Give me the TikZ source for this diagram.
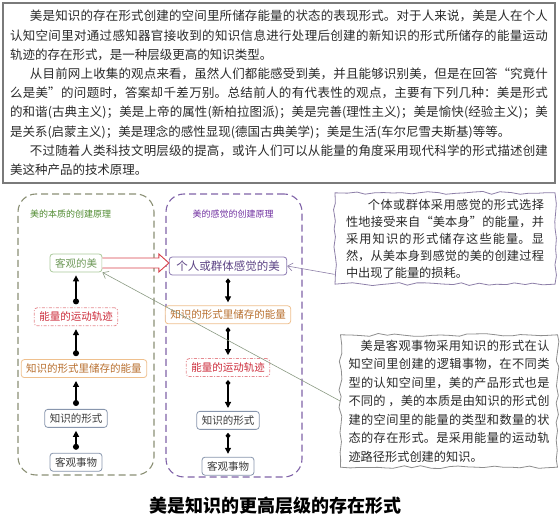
\documentclass[tikz,border=0pt]{standalone}
\usepackage{fontspec}
\setmainfont{Noto Sans CJK SC}
\usepackage{xcolor}
\usepackage{tikz}
\usetikzlibrary{positioning,arrows.meta,calc,decorations.pathmorphing}
\XeTeXlinebreaklocale "zh"
\XeTeXlinebreakskip=0pt plus 2pt

\definecolor{introLine}{HTML}{7A7A7A}
\definecolor{introText}{HTML}{2A2A2A}
\definecolor{frmAline}{HTML}{8A8F74}
\definecolor{frmBline}{HTML}{8063A8}
\definecolor{lblAtext}{HTML}{4F8A2F}
\definecolor{lblBtext}{HTML}{7030A0}
\definecolor{objLine}{HTML}{A9C99A}
\definecolor{objText}{HTML}{6F9A5A}
\definecolor{trackLine}{HTML}{E58A90}
\definecolor{trackText}{HTML}{CC2B3A}
\definecolor{storeLine}{HTML}{EFC08E}
\definecolor{storeText}{HTML}{B86F2E}
\definecolor{plainLine}{HTML}{8896AD}
\definecolor{plainText}{HTML}{3A3A3A}
\definecolor{feelLine}{HTML}{8A78B0}
\definecolor{feelText}{HTML}{5D4485}
\definecolor{bigRed}{HTML}{D8404A}
\definecolor{noteAline}{HTML}{8D7FA8}
\definecolor{noteBline}{HTML}{8E8E8E}
\definecolor{linkGrey}{HTML}{8A9A82}

\begin{document}
\begin{tikzpicture}[x=1pt, y=1pt,
  blk/.style={draw, rounded corners=3pt, fill=white, line width=0.8pt,
              inner xsep=5pt, inner ysep=3pt, minimum height=18pt,
              font=\fontsize{10.5}{12}\selectfont},
  objbox/.style={blk, draw=objLine, text=objText},
  trackbox/.style={blk, draw=trackLine, text=trackText,
              dash pattern=on 3pt off 1.5pt on 1pt off 1.5pt},
  storebox/.style={blk, draw=storeLine, text=storeText},
  plainbox/.style={blk, draw=plainLine, text=plainText},
  feelbox/.style={blk, draw=feelLine, text=feelText, inner xsep=7pt,
              font=\fontsize{11.5}{13}\selectfont},
  frm/.style={draw, rounded corners=18pt, line width=1.1pt,
              dash pattern=on 7pt off 4pt},
  frmA/.style={frm, draw=frmAline},
  frmB/.style={frm, draw=frmBline},
  lbl/.style={font=\fontsize{9}{10}\selectfont, inner sep=0pt},
  notebox/.style={draw, line width=0.8pt, fill=white, align=justify,
              decorate, decoration={random steps, segment length=9pt, amplitude=1.5pt},
              text=introText},
  uparr/.style={{Circle[length=6pt]}-{Triangle[length=6pt,width=6pt]},
              line width=1.2pt, shorten <=3pt, shorten >=3pt},
  downarr/.style={{Diamond[length=6pt,width=5pt]}-{Triangle[length=6pt,width=6pt]},
              line width=1.2pt, shorten <=3pt, shorten >=3pt},
  bigarr/.style={draw=bigRed, line width=0.9pt, fill=white, line join=miter},
  link/.style={-{Straight Barb[length=5pt,width=8pt]}, line width=0.6pt},
]
  \useasboundingbox (0,0) rectangle (560,519);
  \pgfmathsetseed{12}

  \node[draw=introLine, line width=1.2pt, text width=538pt, inner xsep=7pt,
        minimum height=180pt, align=justify, text=introText,
        font=\fontsize{12.5}{19.2}\selectfont] (intro) at (279,426) {%
    \hspace*{1.6em}美是知识的存在形式创建的空间里所储存能量的状态的表现形式。对于人来说，美是人在个人\linebreak
    认知空间里对通过感知器官接收到的知识信息进行处理后创建的新知识的形式所储存的能量运动\linebreak
    轨迹的存在形式，是一种层级更高的知识类型。\par
    \hspace*{1.6em}从目前网上收集的观点来看，虽然人们都能感受到美，并且能够识别美，但是在回答“究竟什\linebreak
    么是美”的问题时，答案却千差万别。总结前人的有代表性的观点，主要有下列几种：美是形式\linebreak
    的和谐(古典主义)；美是上帝的属性(新柏拉图派)；美是完善(理性主义)；美是愉快(经验主义)；美\linebreak
    是关系(启蒙主义)；美是理念的感性显现(德国古典美学)；美是生活(车尔尼雪夫斯基)等等。\par
    \hspace*{1.6em}不过随着人类科技文明层级的提高，或许人们可以从能量的角度采用现代科学的形式描述创建\linebreak
    美这种产品的技术原理。};

  \node[frmA, minimum width=136pt, minimum height=281pt] (essence) at (86,184.5) {};
  \node[frmB, minimum width=136pt, minimum height=283pt] (sense) at (234,183.5) {};
  \node[lbl, text=lblAtext, anchor=west] (essenceLbl) at (30,305) {美的本质的创建原理};
  \node[lbl, text=lblBtext] (senseLbl) at (233,305) {美的感觉的创建原理};

  \node[objbox] (obj) at (76,256) {客观的美};
  \node[trackbox, below=35pt of obj] (track) {能量的运动轨迹};
  \node[storebox, below=33pt of track, xshift=8pt] (store) {知识的形式里储存的能量};
  \node[plainbox, below=31pt of store, xshift=-8pt] (form) {知识的形式};
  \node[plainbox, below=25pt of form] (thing) {客观事物};

  \node[feelbox] (feel) at (228,253) {个人或群体感觉的美};
  \node[storebox, below=30pt of feel] (storeR) {知识的形式里储存的能量};
  \node[trackbox, below=34pt of storeR] (trackR) {能量的运动轨迹};
  \node[plainbox, below=34pt of trackR] (formR) {知识的形式};
  \node[plainbox, below=27pt of formR] (thingR) {客观事物};

  \draw[uparr] (thing) -- (form);
  \draw[uparr] (form.north) -- (form.north |- store.south);
  \draw[uparr] (store.north -| track.north) -- (track.south);
  \draw[uparr] (track) -- (obj);

  \draw[downarr] (feel) -- (storeR);
  \draw[downarr] (storeR) -- (trackR);
  \draw[downarr] (trackR) -- (formR);
  \draw[downarr] (formR) -- (thingR);

  \draw[bigarr] ($(obj.east)+(0,5)$) -- ($(obj.east -| feel.west)+(-10,5)$)
    -- ($(obj.east -| feel.west)+(-10,9)$) -- (obj.east -| feel.west)
    -- ($(obj.east -| feel.west)+(-10,-9)$) -- ($(obj.east -| feel.west)+(-10,-5)$)
    -- ($(obj.east)+(0,-5)$);

  \node[notebox, draw=noteAline, text width=198pt, inner xsep=11pt, inner ysep=6pt,
        font=\fontsize{12.2}{17}\selectfont] (why) at (445,280.5) {%
    \hspace*{1.8em}个体或群体采用感觉的形式选择\linebreak
    性地接受来自“美本身”的能量，并\linebreak
    采用知识的形式储存这些能量。显\linebreak
    然，从美本身到感觉的美的创建过程\linebreak
    中出现了能量的损耗。};

  \node[notebox, draw=noteBline, text width=201pt, inner xsep=8pt, inner ysep=5pt,
        font=\fontsize{12.2}{18.5}\selectfont] (what) at (449,118) {%
    \hspace*{1em}美是客观事物采用知识的形式在认\linebreak
    知空间里创建的逻辑事物，在不同类\linebreak
    型的认知空间里，美的产品形式也是\linebreak
    不同的 ，美的本质是由知识的形式创\linebreak
    建的空间里的能量的类型和数量的状\linebreak
    态的存在形式。是采用能量的运动轨\linebreak
    迹路径形式创建的知识。};

  \draw[link, draw=noteAline] (why.198) -- (feel.east);
  \draw[link, draw=linkGrey] (what.west) -- (obj.south east);

  \node[font=\bfseries\fontsize{18}{20}\selectfont] (title) at (275,13)
    {美是知识的更高层级的存在形式};
\end{tikzpicture}
\end{document}
